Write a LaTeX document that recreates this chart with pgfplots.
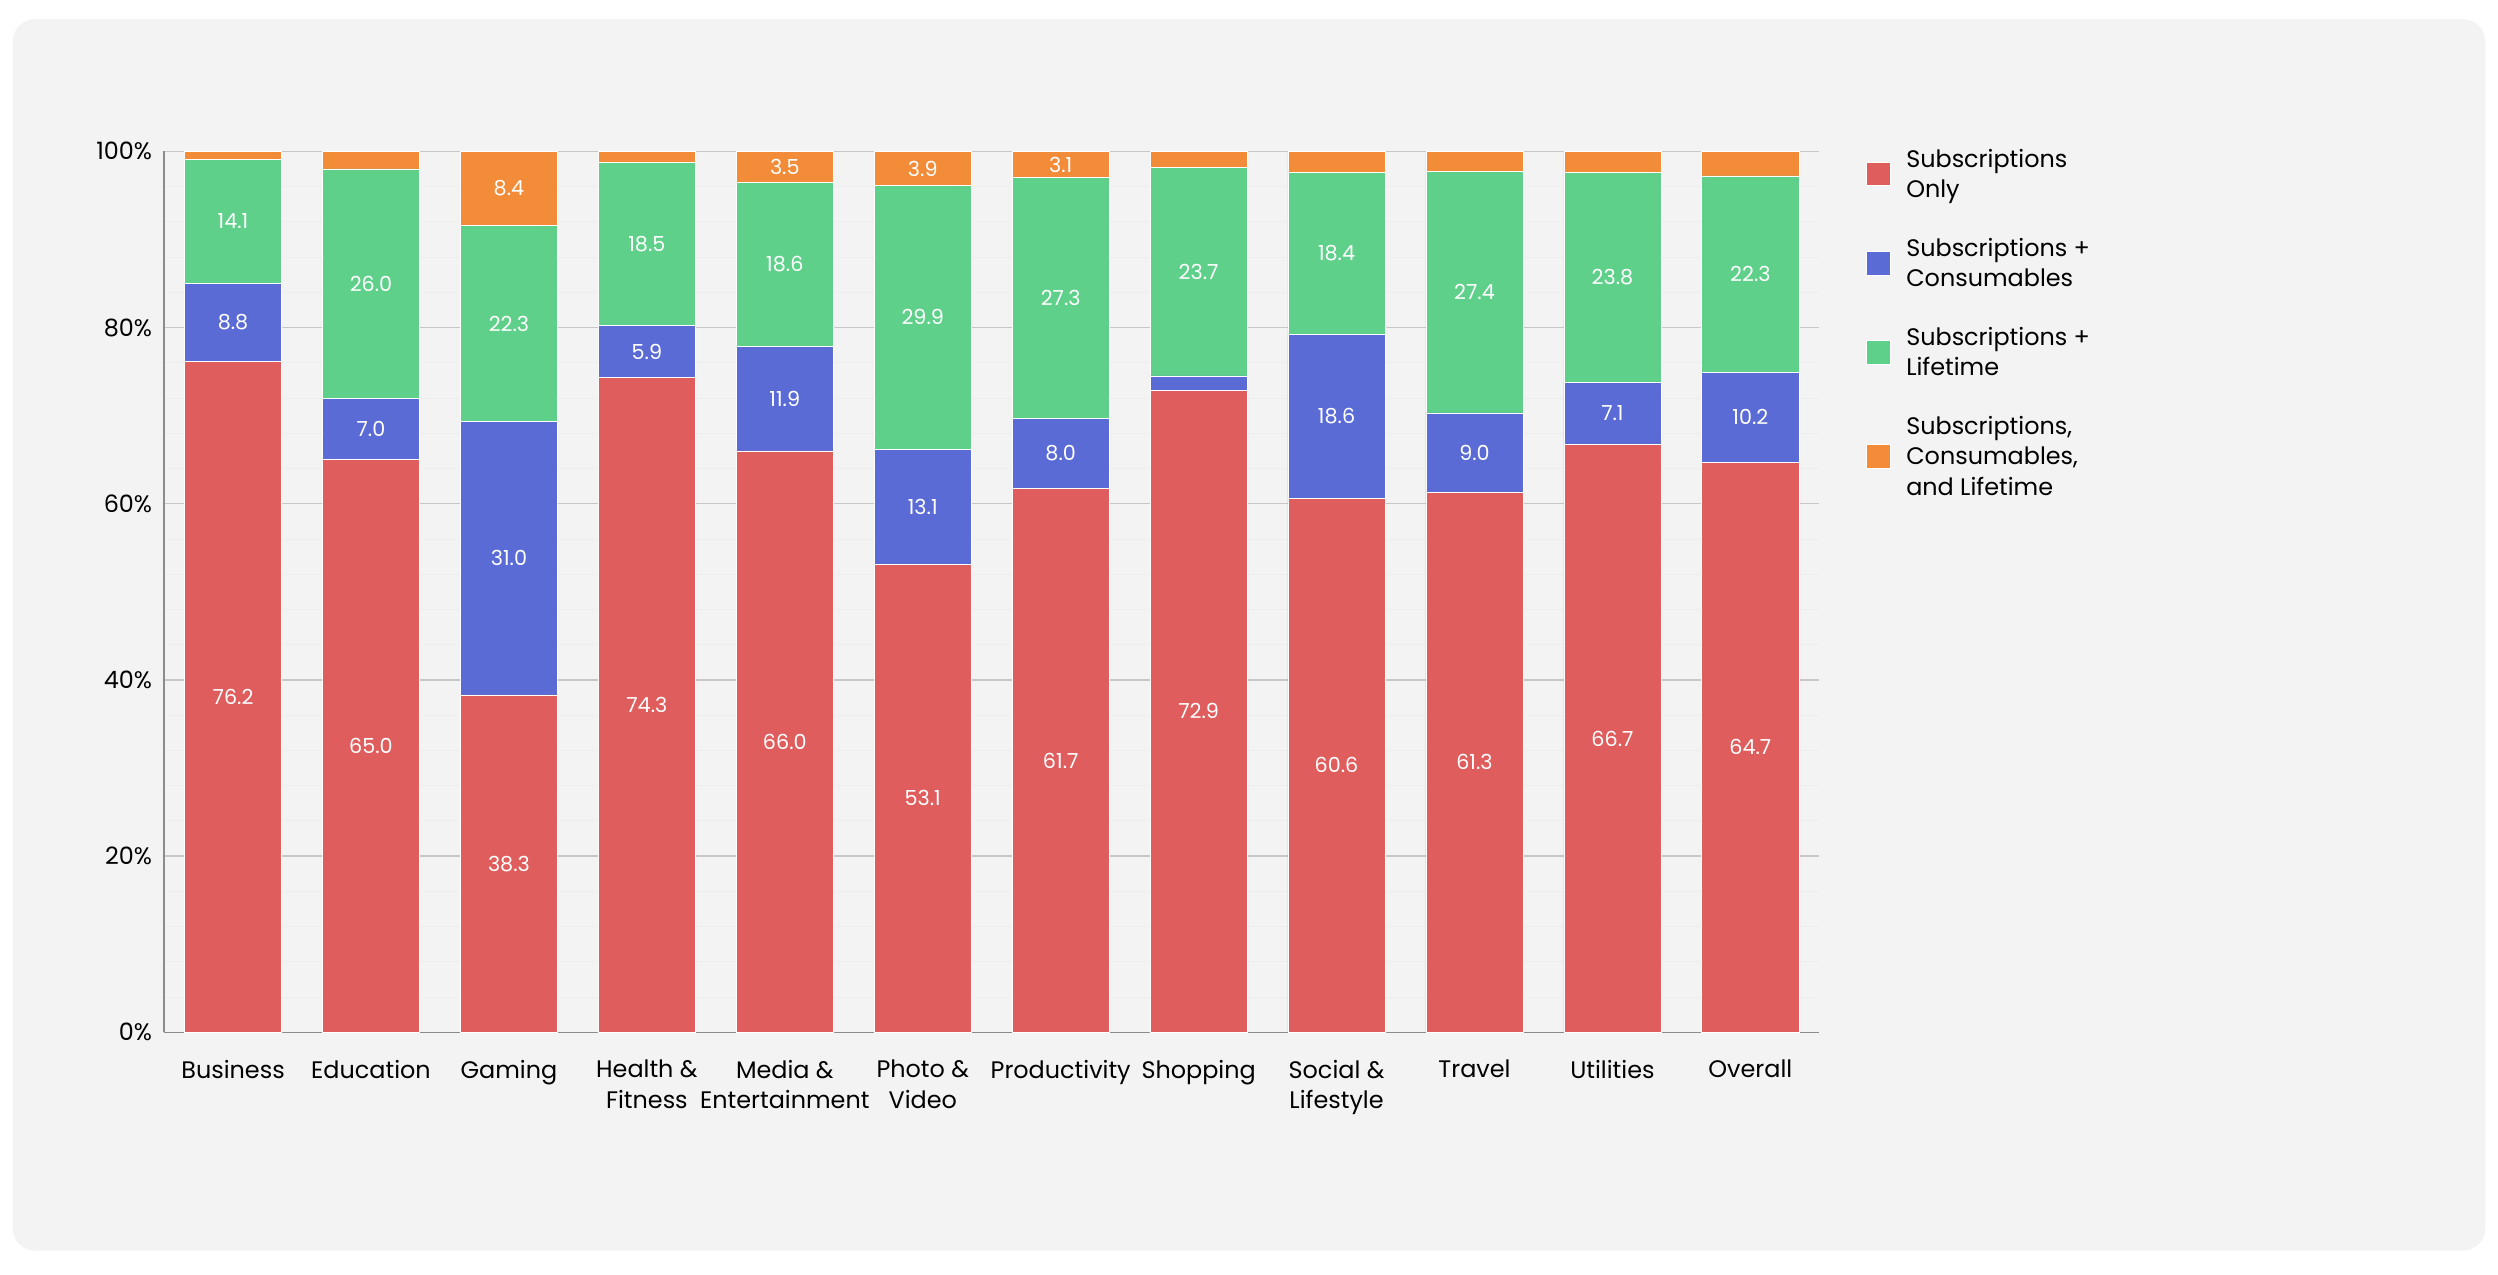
\documentclass[border=0pt]{standalone}
\usepackage{pgfplots}
\pgfplotsset{compat=1.18}
\usepackage{fontspec}
\setmainfont{Poppins}
\definecolor{cr}{HTML}{E05D5D}
\definecolor{cb}{HTML}{5A6BD6}
\definecolor{cg}{HTML}{5FD08A}
\definecolor{co}{HTML}{F28C38}
\definecolor{bg}{HTML}{F3F3F3}
\begin{document}
\begin{tikzpicture}[x=1pt,y=1pt]
\fill[white] (0,0) rectangle (1568,800);
\fill[bg,rounded corners=14] (8,15) rectangle (1560,788);
\begin{axis}[at={(103pt,152pt)},anchor=south west,scale only axis,
 width=1039pt,height=553pt,
 ybar stacked, bar width=61pt,
 xmin=-0.5,xmax=11.5,ymin=0,ymax=100,
 xtick={0,...,11},
 xticklabels={Business,Education,Gaming,Health \&\\Fitness,Media \&\\Entertainment,Photo \&\\Video,Productivity,Shopping,Social \&\\Lifestyle,Travel,Utilities,Overall},
 xticklabel style={align=center,font=\fontsize{15}{19}\selectfont,yshift=-14pt},
 ytick={0,20,...,100}, yticklabel={\pgfmathprintnumber{\tick}\%},
 yticklabel style={font=\fontsize{15}{17}\selectfont,xshift=-4pt},
 /pgf/number format/assume math mode=true,
 minor y tick num=4,
 ymajorgrids, yminorgrids,
 major grid style={draw=black!22,line width=0.8pt},
 minor grid style={draw=black!7,line width=0.5pt},
 major tick length=0pt, minor tick length=0pt,
 axis x line*=bottom, axis y line*=left,
 axis line style={draw=black!45,line width=0.8pt},
 axis background/.style={fill=bg},
 point meta=explicit symbolic,
 nodes near coords, nodes near coords align={center},
 every node near coord/.append style={font=\fontsize{13}{15}\selectfont,text=white},
 legend style={at={(1.025,1.01)},anchor=north west,draw=none,fill=none,
   font=\fontsize{15}{19}\selectfont,row sep=20pt,
   nodes={inner xsep=10pt},
   cells={anchor=west,align=left}},
 legend image code/.code={\fill[#1] (0pt,-7pt) rectangle (15pt,8pt);},
 clip=false,
]
\addplot[fill=cr,draw=white,line width=0.4pt] coordinates {(0,76.2)[76.2] (1,65.0)[65.0] (2,38.3)[38.3] (3,74.3)[74.3] (4,66.0)[66.0] (5,53.1)[53.1] (6,61.7)[61.7] (7,72.9)[72.9] (8,60.6)[60.6] (9,61.3)[61.3] (10,66.7)[66.7] (11,64.7)[64.7]};
\addplot[fill=cb,draw=white,line width=0.4pt] coordinates {(0,8.8)[8.8] (1,7.0)[7.0] (2,31.0)[31.0] (3,5.9)[5.9] (4,11.9)[11.9] (5,13.1)[13.1] (6,8.0)[8.0] (7,1.6)[] (8,18.6)[18.6] (9,9.0)[9.0] (10,7.1)[7.1] (11,10.2)[10.2]};
\addplot[fill=cg,draw=white,line width=0.4pt] coordinates {(0,14.1)[14.1] (1,26.0)[26.0] (2,22.3)[22.3] (3,18.5)[18.5] (4,18.6)[18.6] (5,29.9)[29.9] (6,27.3)[27.3] (7,23.7)[23.7] (8,18.4)[18.4] (9,27.4)[27.4] (10,23.8)[23.8] (11,22.3)[22.3]};
\addplot[fill=co,draw=white,line width=0.4pt] coordinates {(0,0.9)[] (1,2.0)[] (2,8.4)[8.4] (3,1.3)[] (4,3.5)[3.5] (5,3.9)[3.9] (6,3.0)[3.1] (7,1.8)[] (8,2.4)[] (9,2.3)[] (10,2.4)[] (11,2.8)[]};
\legend{Subscriptions\\Only,Subscriptions +\\Consumables,Subscriptions +\\Lifetime,{Subscriptions,\\Consumables,\\and Lifetime}}
\end{axis}
\end{tikzpicture}
\end{document}
